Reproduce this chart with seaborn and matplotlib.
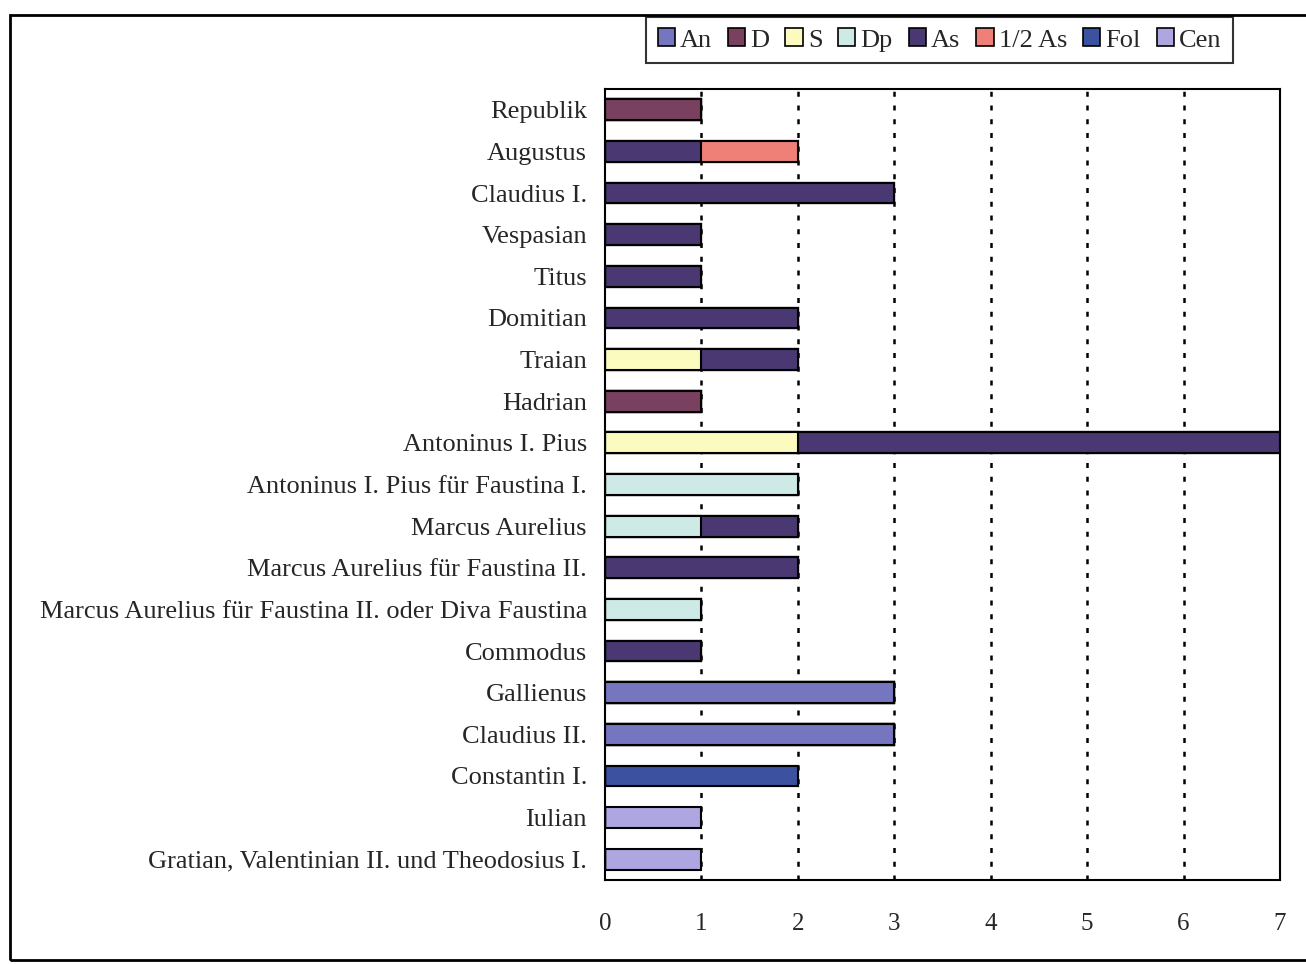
import pandas as pd
import matplotlib.pyplot as plt
import matplotlib.patches as mpatches
import seaborn as sns

# Münzen pro Prägeherr, nach Nominal
herrscher = ['Republik', 'Augustus', 'Claudius I.', 'Vespasian', 'Titus', 'Domitian',
             'Traian', 'Hadrian', 'Antoninus I. Pius', 'Antoninus I. Pius für Faustina I.',
             'Marcus Aurelius', 'Marcus Aurelius für Faustina II.',
             'Marcus Aurelius für Faustina II. oder Diva Faustina', 'Commodus',
             'Gallienus', 'Claudius II.', 'Constantin I.', 'Iulian',
             'Gratian, Valentinian II. und Theodosius I.']
nominale = ['An', 'D', 'S', 'Dp', 'As', '1/2 As', 'Fol', 'Cen']
An = [0, 0, 0, 0, 0, 0, 0, 0, 0, 0, 0, 0, 0, 0, 3, 3, 0, 0, 0]
D = [1, 0, 0, 0, 0, 0, 0, 1, 0, 0, 0, 0, 0, 0, 0, 0, 0, 0, 0]
S = [0, 0, 0, 0, 0, 0, 1, 0, 2, 0, 0, 0, 0, 0, 0, 0, 0, 0, 0]
Dp = [0, 0, 0, 0, 0, 0, 0, 0, 0, 2, 1, 0, 1, 0, 0, 0, 0, 0, 0]
As = [0, 1, 3, 1, 1, 2, 1, 0, 5, 0, 1, 2, 0, 1, 0, 0, 0, 0, 0]
halb_As = [0, 1, 0, 0, 0, 0, 0, 0, 0, 0, 0, 0, 0, 0, 0, 0, 0, 0, 0]
Fol = [0, 0, 0, 0, 0, 0, 0, 0, 0, 0, 0, 0, 0, 0, 0, 0, 2, 0, 0]
Cen = [0, 0, 0, 0, 0, 0, 0, 0, 0, 0, 0, 0, 0, 0, 0, 0, 0, 1, 1]
farben = ['#7676c0', '#7a4060', '#fbfbc0', '#cdeae6', '#4a3872', '#ee8078', '#3c52a0', '#aea6e0']

df = pd.DataFrame({'Herrscher': herrscher, 'An': An, 'D': D, 'S': S, 'Dp': Dp,
                   'As': As, '1/2 As': halb_As, 'Fol': Fol, 'Cen': Cen})
# kumulieren für gestapelte Balken
kum = df[nominale].cumsum(axis=1)
kum['Herrscher'] = herrscher

sns.set_style('white')
plt.rcParams['font.family'] = ['Liberation Serif', 'DejaVu Serif']

fig = plt.figure(figsize=(13.06, 9.64), dpi=100)
ax = fig.add_axes([0.4632, 0.0871, 0.9801 - 0.4632, 0.9077 - 0.0871])

# von hinten nach vorne zeichnen
for nom, farbe in reversed(list(zip(nominale, farben))):
    sns.barplot(data=kum, x=nom, y='Herrscher', orient='h', color=farbe,
                width=0.5, edgecolor='black', linewidth=1.5, saturation=1, ax=ax)

ax.set_xlim(0, 7)
ax.set_ylim(len(herrscher) - 0.5, -0.5)
ax.set_xticks(range(8))
ax.set_xlabel('')
ax.set_ylabel('')
ax.tick_params(axis='x', length=0, pad=24, labelsize=18)
ax.tick_params(axis='y', length=0, pad=13, labelsize=19)
for x in range(1, 7):
    ax.axvline(x, color='black', linestyle=(0, (2, 3.5)), linewidth=1.8, zorder=0)
for s in ax.spines.values():
    s.set_color('black')
    s.set_linewidth(1.5)

handles = [mpatches.Patch(facecolor=f, edgecolor='black', linewidth=1.2, label=n)
           for n, f in zip(nominale, farben)]
leg = fig.legend(handles=handles, loc='center', bbox_to_anchor=(0.7195, 0.9585), ncol=8,
                 fontsize=19, frameon=True, fancybox=False, handlelength=0.65,
                 handleheight=0.65, handletextpad=0.2, columnspacing=0.6,
                 borderpad=0.45)
leg.get_frame().set_edgecolor('black')
leg.get_frame().set_linewidth(1.5)

# äußerer Rahmen
fig.patches.append(mpatches.Rectangle((0.008, 0.004), 1.2, 0.98, transform=fig.transFigure,
                                      fill=False, edgecolor='black', linewidth=2))

fig.savefig('out.png', dpi=100)
